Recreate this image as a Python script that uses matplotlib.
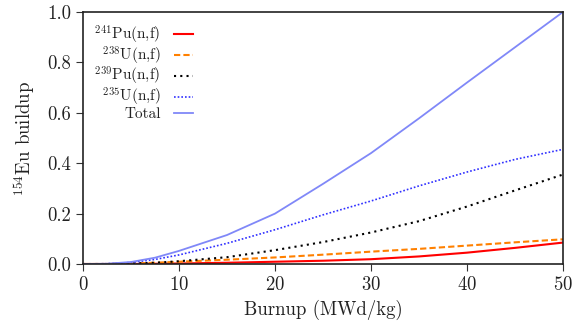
import matplotlib
matplotlib.use("Agg")
import matplotlib.pyplot as plt

plt.rcParams['font.family'] = 'serif'
plt.rcParams['font.serif'] = ['cmr10', 'DejaVu Serif']
plt.rcParams['mathtext.fontset'] = 'cm'
plt.rcParams['axes.formatter.use_mathtext'] = True

burnup = [0, 2.5, 5, 7.5, 10, 15, 20, 25, 30, 35, 40, 45, 50]
pu241 = [0, 0, 0, 0.001, 0.002, 0.005, 0.009, 0.013, 0.019, 0.030, 0.045, 0.064, 0.085]
u238 = [0, 0, 0.002, 0.005, 0.009, 0.017, 0.026, 0.037, 0.049, 0.060, 0.073, 0.086, 0.098]
pu239 = [0, 0, 0.002, 0.005, 0.011, 0.027, 0.055, 0.087, 0.125, 0.170, 0.228, 0.292, 0.355]
u235 = [0, 0.001, 0.006, 0.018, 0.036, 0.082, 0.136, 0.195, 0.250, 0.310, 0.365, 0.415, 0.455]
total = [0, 0.001, 0.008, 0.025, 0.052, 0.115, 0.200, 0.318, 0.440, 0.578, 0.720, 0.860, 1.000]

labels = [r'$^{241}$Pu(n,f)', r'$^{238}$U(n,f)', r'$^{239}$Pu(n,f)', r'$^{235}$U(n,f)', 'Total']

fig = plt.figure(figsize=(5.74, 3.36), dpi=100)
ax = fig.add_axes([83/574, 72/336, 480/574, 252/336])

ax.plot(burnup, pu241, color='#ff0000', lw=1.5, ls='-', label=labels[0])
ax.plot(burnup, u238, color='#ff8000', lw=1.5, ls=(0, (3, 1.5)), label=labels[1])
ax.plot(burnup, pu239, color='black', lw=1.5, ls=(0, (1, 2)), label=labels[2])
ax.plot(burnup, u235, color='#3030ff', lw=1.2, ls=(0, (1, 1.2)), label=labels[3])
ax.plot(burnup, total, color='#8088f8', lw=1.3, ls='-', label=labels[4])

ax.set_xlim(0, 50)
ax.set_ylim(0, 1.0)
ax.set_xticks([0, 10, 20, 30, 40, 50])
ax.set_yticks([0.0, 0.2, 0.4, 0.6, 0.8, 1.0])
ax.set_yticklabels(['0.0', '0.2', '0.4', '0.6', '0.8', '1.0'])
ax.tick_params(direction='out', length=5, width=0.8, labelsize=13.5, colors='#333333', labelcolor='#222222',
               top=False, right=False)
for s in ax.spines.values():
    s.set_color('#222222')
    s.set_linewidth(1.2)

ax.set_xlabel('Burnup (MWd/kg)', fontsize=13.5, color='#222222', labelpad=4)
ax.set_ylabel(r'$^{154}$Eu buildup', fontsize=13.5, color='#222222', labelpad=7)

leg = ax.legend(loc='upper left', frameon=False, markerfirst=False, fontsize=11,
                handlelength=1.25, handletextpad=0.85, labelspacing=-0.08,
                borderaxespad=0.35, bbox_to_anchor=(0.0, 1.0))
for t in leg.get_texts():
    t.set_color('#222222')

fig.savefig('out.png', dpi=100)
